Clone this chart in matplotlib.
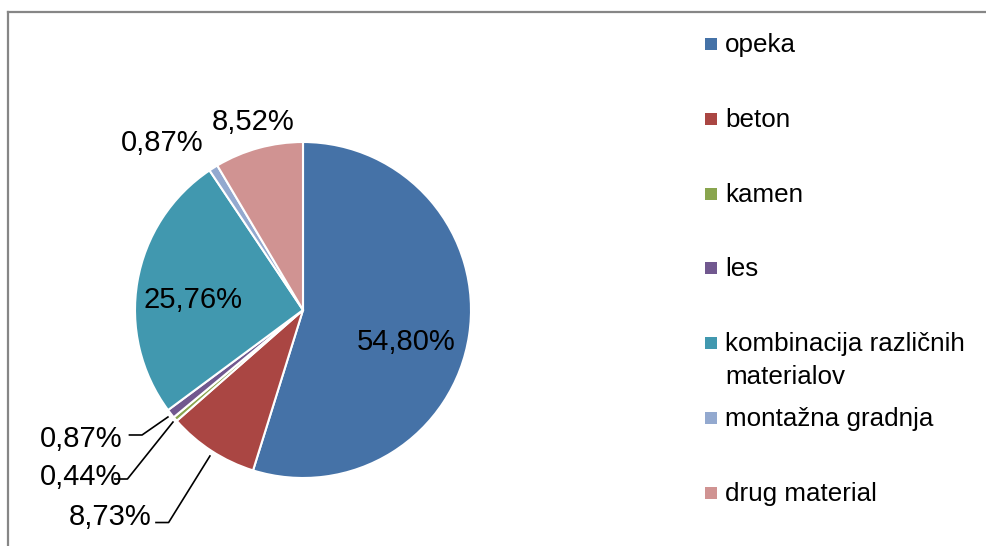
import matplotlib
matplotlib.use('Agg')
import matplotlib.pyplot as plt
from matplotlib.lines import Line2D
from matplotlib.patches import Rectangle

plt.rcParams['font.family'] = ['Liberation Sans', 'DejaVu Sans']

# data
categories = ['opeka', 'beton', 'kamen', 'les', 'kombinacija različnih\nmaterialov',
              'montažna gradnja', 'drug material']
shares = [54.80, 8.73, 0.44, 0.87, 25.76, 0.87, 8.52]
pct_labels = ['54,80%', '8,73%', '0,44%', '0,87%', '25,76%', '0,87%', '8,52%']
colors = ['#4572A7', '#AA4643', '#89A54E', '#71588F', '#4198AF', '#93A9CF', '#D09392']

W, H = 986, 546


def main():
    fig = plt.figure(figsize=(W / 100, H / 100), dpi=100)

    # outer frame (only top and left visible in the crop)
    fig.add_artist(Line2D([8 / W, 1], [1 - 12 / H, 1 - 12 / H], color='#868686', lw=1.6))
    fig.add_artist(Line2D([8 / W, 8 / W], [0, 1 - 12 / H], color='#868686', lw=1.6))

    cx, cy, r = 303, 310, 168
    ax = fig.add_axes([(cx - r) / W, (H - cy - r) / H, 2 * r / W, 2 * r / H])
    ax.pie(shares, colors=colors, startangle=90, counterclock=False,
           wedgeprops=dict(edgecolor='white', linewidth=1.5))
    ax.set_xlim(-1, 1)
    ax.set_ylim(-1, 1)
    ax.axis('off')

    # label positions (data units of the pie, radius 1)
    pos = {
        0: (0.613, -0.19),
        4: (-0.655, 0.06),
        5: (-0.839, 0.994),
        6: (-0.298, 1.119),
    }
    for i, p in pos.items():
        ax.text(p[0], p[1], pct_labels[i], ha='center', va='center', fontsize=21,
                clip_on=False)

    # labels with leader lines: text anchor, elbow, wedge point
    leaders = {
        1: ((-1.149, -1.232), (-0.80, -1.265), (-0.554, -0.869)),
        2: ((-1.321, -0.994), (-1.045, -1.006), (-0.774, -0.667)),
        3: ((-1.321, -0.768), (-0.958, -0.744), (-0.804, -0.637)),
    }
    for i, (t, elbow, tip) in leaders.items():
        ax.text(t[0], t[1], pct_labels[i], ha='center', va='center', fontsize=21,
                clip_on=False)
        ax.plot([elbow[0] - 0.075, elbow[0], tip[0]], [elbow[1], elbow[1], tip[1]],
                color='black', lw=1.2, clip_on=False)

    # legend: marker beside the first line of each entry
    for i, (name, col) in enumerate(zip(categories, colors)):
        y = 44 + i * 74.8
        fig.add_artist(Rectangle((705 / W, 1 - (y + 6) / H), 12 / W, 12 / H,
                                 facecolor=col, edgecolor='none'))
        for k, line in enumerate(name.split('\n')):
            fig.text(725 / W, 1 - (y + 8 + k * 33) / H, line, fontsize=18.7,
                     ha='left', va='baseline')

    fig.savefig('out.png', dpi=100)


if __name__ == '__main__':
    main()
